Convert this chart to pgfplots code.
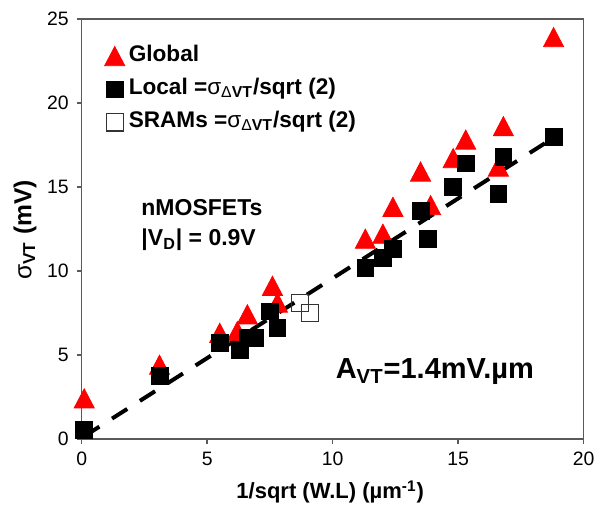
\documentclass[border=0pt]{standalone}
\usepackage{fontspec}
\setmainfont{Liberation Sans}
\usepackage{pgfplots}
\pgfplotsset{compat=1.18}

\definecolor{framegray}{HTML}{5A5A5A}

% measured threshold-voltage spread
\pgfplotstableread{
x     y
0.1   2.4
3.1   4.4
5.5   6.3
6.2   6.4
6.6   7.4
7.6   9.1
7.8   8.1
11.3  11.9
12.0  12.2
12.4  13.8
13.5  15.9
13.9  13.9
14.8  16.7
15.3  17.8
16.6  16.2
16.8  18.6
18.8  23.9
}\globaldata

\pgfplotstableread{
x     y
0.1   0.55
3.1   3.75
5.5   5.7
6.3   5.3
6.6   6.0
6.9   6.0
7.5   7.6
7.8   6.6
11.3  10.2
12.0  10.8
12.4  11.3
13.5  13.6
13.8  11.9
14.8  15.0
15.3  16.4
16.6  14.6
16.8  16.8
18.8  18.0
}\localdata

\pgfplotstableread{
x     y
8.7   8.1
9.1   7.5
}\sramdata

\begin{document}
\begin{tikzpicture}
\useasboundingbox (-40.85pt,-36.5pt) rectangle (256.65pt,219.5pt);
\begin{axis}[
  scale only axis,
  width=251pt, height=210pt,
  xmin=0, xmax=20, ymin=0, ymax=25,
  xtick={0,5,...,20}, ytick={0,5,...,25},
  tick align=outside, tick pos=left,
  major tick length=2.5pt,
  axis line style={draw=framegray, line width=0.75pt},
  tick style={draw=framegray, line width=0.75pt},
  /pgf/number format/assume math mode=true,
  tick label style={font=\fontsize{9.7}{11}\selectfont, text=black},
  xticklabel style={yshift=-0.5pt},
  yticklabel style={xshift=-0.5pt},
  xlabel={\textbf{1/sqrt (W.L) (µm\textsuperscript{-1})}},
  xlabel style={font=\fontsize{11}{13}\selectfont, at={(rel axis cs:0.495,0)}, anchor=center, yshift=-26.5pt},
  ylabel={σ\textsubscript{\textbf{VT}} \textbf{(mV)}},
  ylabel style={font=\fontsize{12.3}{14}\selectfont, at={(rel axis cs:0,0.498)}, anchor=center, rotate=0, yshift=28.3pt},
  legend style={at={(rel axis cs:0.045,0.95)}, anchor=north west, draw=none, fill=none,
    font=\bfseries\fontsize{11.3}{13}\selectfont, row sep=0.5pt,
    nodes={text height=8.5pt, text depth=3.5pt},
    inner xsep=0pt, inner ysep=0pt},
  legend cell align=left,
  clip=false,
]
\addplot[only marks, mark=triangle*, mark size=5.8pt, color=red,
  mark options={fill=red, draw=red, yshift=-1.45pt, yscale=1.1}]
  table[x=x, y=y] {\globaldata};
\addlegendentry{Global}

\addplot[black, line width=2pt, dash pattern=on 9pt off 7.5pt, forget plot]
  coordinates {(0.1,0.16) (18.8,17.93)};

\addplot[only marks, mark=square*, mark size=4.2pt,
  mark options={fill=black, draw=black}]
  table[x=x, y=y] {\localdata};
\addlegendentry{Local =\mdseries σ\textsubscript{Δ\bfseries VT}\bfseries /sqrt (2)}

\addplot[only marks, mark=square, mark size=4.3pt,
  mark options={draw=black!80, line width=0.6pt, fill=none}]
  table[x=x, y=y] {\sramdata};
\addlegendentry{SRAMs =\mdseries σ\textsubscript{Δ\bfseries VT}\bfseries /sqrt (2)}

\node[font=\bfseries\fontsize{11.5}{13}\selectfont] at (axis cs:4.79,13.8) {nMOSFETs};
\node[font=\bfseries\fontsize{11.5}{13}\selectfont] at (axis cs:4.66,11.85) {|V\textsubscript{D}| = 0.9V};
\node[font=\bfseries\fontsize{14.5}{16}\selectfont] at (axis cs:14.07,3.99) {A\textsubscript{VT}=1.4mV.µm};
\end{axis}
\end{tikzpicture}
\end{document}
